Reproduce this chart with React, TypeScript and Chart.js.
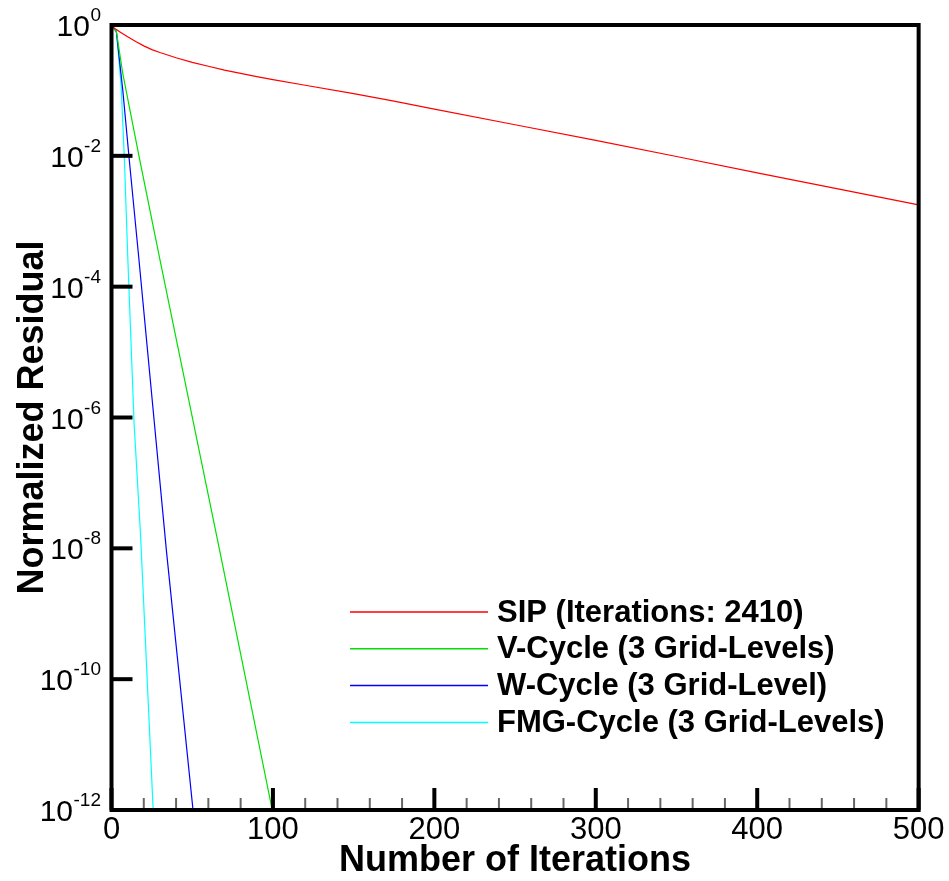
import { useEffect, useRef } from 'react';
import { Chart, registerables } from 'chart.js';

Chart.register(...registerables);

const FONT = "'Liberation Sans', Arial, Helvetica, sans-serif";

// SIP
const sipIterations = [1, 3, 5, 8, 10, 15, 20, 25, 30, 40, 50, 60, 70, 80, 90, 100, 120, 150, 175, 200, 250, 300, 350, 400, 450, 500];
const sipResidual = [
  0.93, 0.85, 0.79, 0.71, 0.66, 0.56, 0.48, 0.42, 0.38, 0.316, 0.269, 0.234, 0.204, 0.182, 0.162, 0.146,
  0.12, 0.0891, 0.0684, 0.0519, 0.0299, 0.0172, 0.00977, 0.0055, 0.00313, 0.00178,
];

// V-Cycle
const vIterations = [1, 3, 7, 17, 30, 67, 100];
const vResidual = [0.91, 0.8, 0.18, 0.01, 2.6e-4, 9.3e-9, 8.9e-13];

// W-Cycle
const wIterations = [1, 3, 7, 11, 17, 34, 51];
const wResidual = [0.91, 0.79, 0.1, 8.7e-3, 2.6e-4, 9.3e-9, 7.6e-13];

// FMG-Cycle
const fmgIterations = [1, 3, 6, 8, 10, 14, 18, 26];
const fmgResidual = [0.91, 0.83, 0.115, 8.7e-3, 3.2e-4, 8e-7, 1.6e-8, 8e-13];

const seriesLabels = [
  'SIP (Iterations: 2410)',
  'V-Cycle (3 Grid-Levels)',
  'W-Cycle (3 Grid-Level)',
  'FMG-Cycle (3 Grid-Levels)',
];
const seriesColors = ['#ff0000', '#00e000', '#0000ff', '#00ffff'];

const xMin = 0;
const xMax = 500;
const xMinorStep = 20;
const xMajorStep = 100;
const yTickExponents = [0, -2, -4, -6, -8, -10, -12];

const toPoints = (xs: number[], ys: number[]) => xs.map((x, i) => ({ x, y: ys[i] }));

const framePlugin = {
  id: 'frameTicksLegend',
  afterDraw(chart: any) {
    const { ctx, chartArea: a, scales } = chart;
    const xs = scales.x;
    const ys = scales.y;
    ctx.save();

    // x ticks (inside)
    xs.ticks.forEach((t: any) => {
      const px = xs.getPixelForValue(t.value);
      const major = t.value % xMajorStep === 0;
      ctx.beginPath();
      ctx.lineWidth = major ? 4 : 2;
      ctx.strokeStyle = major ? '#000' : '#666';
      ctx.moveTo(px, a.bottom);
      ctx.lineTo(px, a.bottom - (major ? 22 : 12));
      ctx.stroke();
    });

    // y ticks (inside) and labels
    ys.ticks.forEach((t: any) => {
      const py = ys.getPixelForValue(t.value);
      ctx.beginPath();
      ctx.lineWidth = 4;
      ctx.strokeStyle = '#000';
      ctx.moveTo(a.left, py);
      ctx.lineTo(a.left + 21, py);
      ctx.stroke();

      const exp = Math.round(Math.log10(t.value));
      const expStr = String(exp);
      const right = a.left - 10.5;
      ctx.fillStyle = '#000';
      ctx.textAlign = 'right';
      ctx.textBaseline = 'alphabetic';
      ctx.font = `19px ${FONT}`;
      const ew = ctx.measureText(expStr).width;
      ctx.fillText(expStr, right, py - 4);
      ctx.font = `30px ${FONT}`;
      ctx.fillText('10', right - ew - 0.5, py + 11);
    });

    // frame
    ctx.lineWidth = 4;
    ctx.strokeStyle = '#000';
    ctx.strokeRect(a.left, a.top, a.right - a.left, a.bottom - a.top);

    // legend
    const lx0 = 350;
    const lx1 = 488;
    const tx = 497;
    const ly0 = 612;
    const ldy = 36.8;
    chart.data.datasets.forEach((ds: any, i: number) => {
      const y = ly0 + i * ldy;
      ctx.beginPath();
      ctx.lineWidth = 1.5;
      ctx.strokeStyle = ds.borderColor;
      ctx.moveTo(lx0, y);
      ctx.lineTo(lx1, y);
      ctx.stroke();
      ctx.fillStyle = '#000';
      ctx.textAlign = 'left';
      ctx.textBaseline = 'middle';
      ctx.font = `bold 31px ${FONT}`;
      ctx.fillText(ds.label, tx, y + 1);
    });

    ctx.restore();
  },
};

export default function App() {
  const canvasRef = useRef<HTMLCanvasElement | null>(null);

  useEffect(() => {
    if (!canvasRef.current) return;
    const seriesX = [sipIterations, vIterations, wIterations, fmgIterations];
    const seriesY = [sipResidual, vResidual, wResidual, fmgResidual];
    const chart = new Chart(canvasRef.current, {
      type: 'line',
      data: {
        datasets: seriesLabels.map((label, i) => ({
          label,
          data: toPoints(seriesX[i], seriesY[i]),
          borderColor: seriesColors[i],
          backgroundColor: seriesColors[i],
          borderWidth: 1.2,
          pointRadius: 0,
          fill: false,
          tension: 0,
        })),
      },
      options: {
        animation: false,
        responsive: true,
        maintainAspectRatio: false,
        layout: { padding: { left: 0, top: 25, right: 28.5, bottom: 0 } },
        plugins: {
          legend: { display: false },
          tooltip: { enabled: false },
        },
        scales: {
          x: {
            type: 'linear',
            min: xMin,
            max: xMax,
            grid: { display: false, drawTicks: false },
            border: { display: false },
            ticks: {
              stepSize: xMinorStep,
              autoSkip: false,
              maxRotation: 0,
              padding: 4.5,
              color: '#000',
              font: { family: FONT, size: 31, lineHeight: 1 },
              callback: (v: any) => (Number(v) % xMajorStep === 0 ? String(v) : ''),
            },
            title: {
              display: true,
              text: 'Number of Iterations',
              color: '#000',
              font: { family: FONT, size: 36, weight: 'bold', lineHeight: 1 },
              padding: { top: 0, bottom: 2 },
            },
            afterFit: (scale: any) => {
              scale.height = 71;
            },
          },
          y: {
            type: 'logarithmic',
            min: 1e-12,
            max: 1,
            grid: { display: false, drawTicks: false },
            border: { display: false },
            ticks: { display: false },
            afterBuildTicks: (scale: any) => {
              scale.ticks = yTickExponents.map((e) => ({ value: Math.pow(10, e) }));
            },
            title: {
              display: true,
              text: 'Normalized Residual',
              color: '#000',
              font: { family: FONT, size: 36, weight: 'bold', lineHeight: 1 },
              padding: { top: 15, bottom: 0 },
            },
            afterFit: (scale: any) => {
              scale.width = 111.5;
            },
          },
        },
      },
      plugins: [framePlugin],
    } as any);
    return () => chart.destroy();
  }, []);

  return (
    <div style={{ position: 'fixed', left: 0, top: 0, width: 949, height: 881, background: '#fff' }}>
      <canvas ref={canvasRef} />
    </div>
  );
}
